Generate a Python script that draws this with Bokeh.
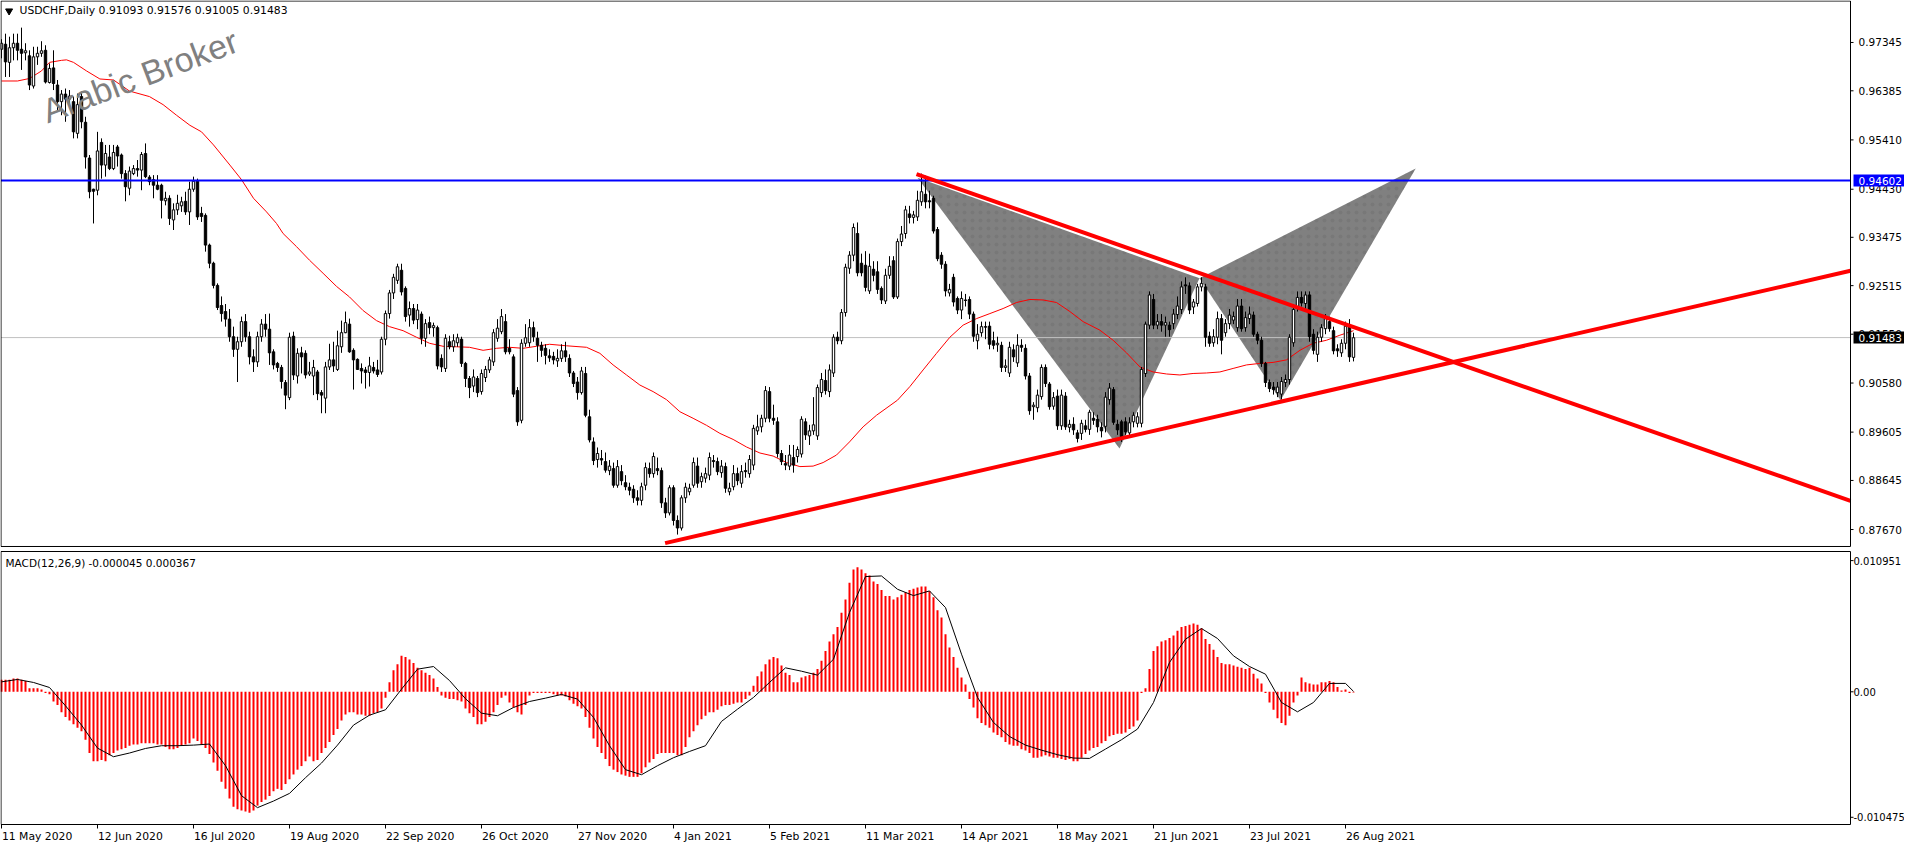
from bokeh.plotting import figure
from bokeh.models import Range1d, ColumnDataSource
from bokeh.layouts import column
from bokeh.embed import file_html
from bokeh.resources import INLINE
from bokeh.core.properties import value

FONT = "DejaVu Sans"

# ---------------- data ----------------
opens = [
0.9721,0.9731,0.9695,0.9724,0.9733,0.9721,0.9714,0.9708,0.9648,0.9706,
0.9713,0.9719,0.9655,0.9684,0.9650,0.9617,0.9632,0.9622,0.9617,0.9554,
0.9627,0.9576,0.9505,0.9443,0.9441,0.9536,0.9491,0.9507,0.9484,0.9527,
0.9511,0.9474,0.9445,0.9474,0.9484,0.9481,0.9514,0.9467,0.9462,0.9451,
0.9451,0.9420,0.9425,0.9382,0.9402,0.9410,0.9419,0.9398,0.9443,0.9459,
0.9395,0.9391,0.9332,0.9296,0.9252,0.9212,0.9200,0.9185,0.9150,0.9125,
0.9140,0.9180,0.9150,0.9110,0.9100,0.9150,0.9175,0.9165,0.9120,0.9097,
0.9089,0.9059,0.9029,0.9151,0.9072,0.9118,0.9117,0.9076,0.9072,0.9080,
0.9039,0.9028,0.9090,0.9104,0.9085,0.9130,0.9158,0.9175,0.9123,0.9105,
0.9087,0.9084,0.9079,0.9089,0.9084,0.9080,0.9145,0.9196,0.9237,0.9262,
0.9282,0.9246,0.9193,0.9206,0.9184,0.9195,0.9147,0.9178,0.9168,0.9168,
0.9107,0.9087,0.9140,0.9130,0.9138,0.9145,0.9097,0.9067,0.9052,0.9067,
0.9041,0.9069,0.9084,0.9100,0.9147,0.9160,0.9180,0.9127,0.9110,0.9043,
0.8984,0.9137,0.9138,0.9168,0.9147,0.9133,0.9127,0.9112,0.9111,0.9102,
0.9107,0.9122,0.9107,0.9078,0.9060,0.9039,0.9077,0.8991,0.8941,0.8906,
0.8908,0.8902,0.8884,0.8888,0.8855,0.8882,0.8860,0.8851,0.8847,0.8830,
0.8825,0.8855,0.8888,0.8878,0.8888,0.8884,0.8820,0.8800,0.8850,0.8785,
0.8770,0.8830,0.8842,0.8855,0.8893,0.8862,0.8869,0.8875,0.8904,0.8902,
0.8880,0.8892,0.8842,0.8852,0.8878,0.8859,0.8884,0.8878,0.8895,0.8963,
0.8971,0.8988,0.9041,0.8988,0.8981,0.8918,0.8898,0.8893,0.8910,0.8912,
0.8917,0.8981,0.8953,0.8963,0.8953,0.9039,0.9063,0.9041,0.9078,0.9149,
0.9142,0.9198,0.9286,0.9312,0.9355,0.9296,0.9292,0.9241,0.9284,0.9279,
0.9246,0.9221,0.9272,0.9301,0.9229,0.9339,0.9355,0.9394,0.9387,0.9388,
0.9418,0.9433,0.9420,0.9425,0.9363,0.9312,0.9294,0.9237,0.9268,0.9226,
0.9203,0.9223,0.9224,0.9195,0.9142,0.9158,0.9170,0.9171,0.9142,0.9134,
0.9133,0.9089,0.9078,0.9124,0.9098,0.9133,0.9127,0.9072,0.9011,0.9009,
0.9031,0.9089,0.9056,0.9012,0.9032,0.8973,0.9032,0.8970,0.8976,0.8959,
0.8958,0.8973,0.8966,0.8988,0.8986,0.8970,0.8972,0.9025,0.9045,0.8976,
0.8981,0.8981,0.8959,0.8981,0.8978,0.8978,0.9077,0.9173,0.9224,0.9173,
0.9180,0.9173,0.9173,0.9176,0.9194,0.9204,0.9253,0.9251,0.9209,0.9216,
0.9249,0.9249,0.9151,0.9138,0.9149,0.9186,0.9158,0.9176,0.9183,0.9168,
0.9211,0.9168,0.9186,0.9193,0.9155,0.9143,0.9097,0.9059,0.9050,0.9039,
0.9036,0.9059,0.9065,0.9138,0.9209,0.9228,0.9216,0.9233,0.9155,0.9115,
0.9149,0.9166,0.9180,0.9162,0.9126,0.9118,0.9137,0.9171,0.9109]
highs = [
0.9741,0.9752,0.9746,0.9752,0.9752,0.9764,0.9733,0.9719,0.9726,0.9726,
0.9737,0.9729,0.9693,0.9719,0.9660,0.9640,0.9643,0.9640,0.9627,0.9633,
0.9637,0.9587,0.9511,0.9444,0.9557,0.9544,0.9531,0.9531,0.9531,0.9531,
0.9514,0.9481,0.9488,0.9491,0.9501,0.9517,0.9534,0.9471,0.9471,0.9471,
0.9454,0.9438,0.9431,0.9415,0.9432,0.9428,0.9438,0.9458,0.9468,0.9464,
0.9408,0.9395,0.9335,0.9299,0.9256,0.9230,0.9215,0.9205,0.9170,0.9150,
0.9190,0.9195,0.9160,0.9125,0.9160,0.9185,0.9195,0.9196,0.9125,0.9100,
0.9094,0.9064,0.9158,0.9160,0.9127,0.9130,0.9123,0.9100,0.9104,0.9084,
0.9044,0.9100,0.9136,0.9140,0.9162,0.9182,0.9200,0.9186,0.9127,0.9107,
0.9097,0.9090,0.9110,0.9100,0.9104,0.9150,0.9202,0.9243,0.9275,0.9295,
0.9295,0.9250,0.9220,0.9215,0.9215,0.9200,0.9185,0.9190,0.9178,0.9172,
0.9115,0.9155,0.9152,0.9155,0.9156,0.9150,0.9100,0.9072,0.9085,0.9072,
0.9085,0.9092,0.9110,0.9165,0.9185,0.9205,0.9195,0.9145,0.9115,0.9050,
0.9145,0.9175,0.9185,0.9180,0.9160,0.9140,0.9135,0.9125,0.9120,0.9125,
0.9135,0.9140,0.9115,0.9082,0.9070,0.9090,0.9090,0.9005,0.8950,0.8930,
0.8925,0.8920,0.8905,0.8900,0.8905,0.8895,0.8875,0.8860,0.8855,0.8845,
0.8860,0.8900,0.8900,0.8920,0.8910,0.8890,0.8830,0.8855,0.8855,0.8795,
0.8835,0.8860,0.8858,0.8910,0.8910,0.8880,0.8890,0.8920,0.8915,0.8910,
0.8905,0.8900,0.8860,0.8895,0.8890,0.8895,0.8900,0.8915,0.8975,0.8995,
0.8995,0.9052,0.9050,0.9015,0.8990,0.8925,0.8915,0.8935,0.8935,0.8932,
0.8992,0.8988,0.8975,0.9030,0.9055,0.9078,0.9085,0.9095,0.9155,0.9160,
0.9205,0.9295,0.9320,0.9375,0.9377,0.9315,0.9320,0.9315,0.9300,0.9300,
0.9250,0.9285,0.9310,0.9310,0.9345,0.9370,0.9410,0.9410,0.9400,0.9440,
0.9474,0.9470,0.9440,0.9430,0.9368,0.9318,0.9300,0.9255,0.9275,0.9230,
0.9240,0.9235,0.9230,0.9200,0.9175,0.9180,0.9180,0.9180,0.9160,0.9150,
0.9140,0.9105,0.9140,0.9135,0.9155,0.9145,0.9135,0.9078,0.9020,0.9045,
0.9095,0.9095,0.9060,0.9040,0.9045,0.9045,0.9040,0.8985,0.8990,0.8965,
0.8985,0.8985,0.9005,0.9000,0.8995,0.8980,0.9040,0.9058,0.9050,0.8985,
0.8985,0.8990,0.8990,0.9000,0.9000,0.9090,0.9180,0.9240,0.9235,0.9195,
0.9195,0.9190,0.9180,0.9205,0.9230,0.9260,0.9268,0.9258,0.9225,0.9255,
0.9268,0.9255,0.9160,0.9165,0.9200,0.9195,0.9185,0.9205,0.9200,0.9225,
0.9225,0.9200,0.9210,0.9200,0.9160,0.9150,0.9100,0.9065,0.9060,0.9060,
0.9070,0.9075,0.9155,0.9215,0.9240,0.9240,0.9240,0.9240,0.9165,0.9160,
0.9175,0.9195,0.9190,0.9170,0.9135,0.9145,0.9180,0.9185,0.9158]
lows = [
0.9703,0.9666,0.9666,0.9699,0.9699,0.9680,0.9699,0.9640,0.9643,0.9690,
0.9706,0.9653,0.9653,0.9640,0.9597,0.9590,0.9577,0.9605,0.9544,0.9544,
0.9564,0.9484,0.9425,0.9375,0.9431,0.9464,0.9468,0.9481,0.9481,0.9488,
0.9464,0.9419,0.9431,0.9471,0.9468,0.9441,0.9465,0.9451,0.9425,0.9441,
0.9385,0.9411,0.9372,0.9362,0.9392,0.9398,0.9392,0.9372,0.9438,0.9382,
0.9378,0.9319,0.9286,0.9246,0.9203,0.9180,0.9170,0.9140,0.9110,0.9060,
0.9130,0.9140,0.9095,0.9080,0.9090,0.9140,0.9150,0.9094,0.9085,0.9080,
0.9047,0.9006,0.9024,0.9064,0.9057,0.9077,0.9067,0.9072,0.9034,0.9024,
0.8998,0.8998,0.9084,0.9080,0.9082,0.9118,0.9157,0.9118,0.9045,0.9084,
0.9057,0.9047,0.9051,0.9077,0.9070,0.9075,0.9133,0.9186,0.9225,0.9255,
0.9232,0.9180,0.9170,0.9175,0.9165,0.9135,0.9130,0.9155,0.9150,0.9085,
0.9080,0.9080,0.9125,0.9120,0.9130,0.9090,0.9050,0.9028,0.9040,0.9030,
0.9035,0.9060,0.9078,0.9092,0.9140,0.9155,0.9115,0.9115,0.9030,0.8973,
0.8978,0.9130,0.9130,0.9140,0.9100,0.9110,0.9095,0.9100,0.9095,0.9090,
0.9100,0.9100,0.9070,0.9050,0.9025,0.9035,0.8990,0.8940,0.8895,0.8890,
0.8895,0.8880,0.8875,0.8850,0.8850,0.8855,0.8845,0.8835,0.8820,0.8815,
0.8815,0.8845,0.8870,0.8870,0.8875,0.8810,0.8790,0.8795,0.8775,0.8757,
0.8765,0.8820,0.8835,0.8850,0.8850,0.8850,0.8860,0.8865,0.8890,0.8875,
0.8870,0.8840,0.8835,0.8845,0.8855,0.8850,0.8870,0.8870,0.8885,0.8955,
0.8960,0.8980,0.8980,0.8975,0.8910,0.8895,0.8885,0.8885,0.8880,0.8900,
0.8910,0.8945,0.8935,0.8955,0.8945,0.9030,0.9035,0.9030,0.9070,0.9135,
0.9135,0.9190,0.9275,0.9300,0.9270,0.9270,0.9240,0.9235,0.9260,0.9235,
0.9215,0.9215,0.9265,0.9225,0.9225,0.9330,0.9345,0.9375,0.9375,0.9380,
0.9410,0.9405,0.9405,0.9355,0.9300,0.9285,0.9230,0.9230,0.9210,0.9195,
0.9185,0.9210,0.9185,0.9140,0.9125,0.9150,0.9145,0.9125,0.9125,0.9120,
0.9080,0.9080,0.9070,0.9100,0.9090,0.9120,0.9065,0.8995,0.8985,0.9000,
0.9025,0.9050,0.9005,0.9005,0.8965,0.8965,0.8965,0.8960,0.8955,0.8940,
0.8945,0.8960,0.8955,0.8975,0.8960,0.8950,0.8960,0.9015,0.8975,0.8955,
0.8941,0.8955,0.8950,0.8970,0.8970,0.8970,0.9070,0.9165,0.9165,0.9165,
0.9160,0.9150,0.9150,0.9165,0.9185,0.9195,0.9235,0.9195,0.9195,0.9210,
0.9240,0.9130,0.9130,0.9130,0.9135,0.9115,0.9150,0.9165,0.9175,0.9160,
0.9160,0.9160,0.9175,0.9150,0.9135,0.9090,0.9050,0.9040,0.9035,0.9030,
0.9025,0.9050,0.9055,0.9130,0.9200,0.9210,0.9205,0.9140,0.9115,0.9100,
0.9140,0.9155,0.9160,0.9115,0.9110,0.9110,0.9125,0.9100,0.9101]
closes = [
0.9733,0.9696,0.9724,0.9733,0.9719,0.9713,0.9718,0.9650,0.9706,0.9713,
0.9718,0.9656,0.9683,0.9653,0.9617,0.9632,0.9622,0.9628,0.9557,0.9611,
0.9577,0.9507,0.9438,0.9439,0.9519,0.9491,0.9514,0.9484,0.9516,0.9509,
0.9474,0.9448,0.9479,0.9484,0.9481,0.9512,0.9468,0.9458,0.9451,0.9443,
0.9421,0.9425,0.9385,0.9402,0.9415,0.9418,0.9398,0.9443,0.9459,0.9388,
0.9389,0.9332,0.9296,0.9252,0.9208,0.9196,0.9185,0.9150,0.9125,0.9140,
0.9180,0.9150,0.9110,0.9100,0.9150,0.9175,0.9165,0.9118,0.9094,0.9089,
0.9061,0.9034,0.9149,0.9074,0.9117,0.9110,0.9074,0.9080,0.9089,0.9037,
0.9034,0.9090,0.9104,0.9092,0.9132,0.9158,0.9178,0.9120,0.9104,0.9085,
0.9082,0.9079,0.9092,0.9082,0.9075,0.9145,0.9196,0.9237,0.9268,0.9289,
0.9239,0.9190,0.9206,0.9183,0.9203,0.9147,0.9176,0.9168,0.9172,0.9092,
0.9090,0.9147,0.9130,0.9142,0.9148,0.9097,0.9067,0.9049,0.9070,0.9039,
0.9077,0.9085,0.9104,0.9158,0.9167,0.9190,0.9120,0.9120,0.9036,0.8981,
0.9137,0.9148,0.9168,0.9150,0.9133,0.9123,0.9113,0.9108,0.9104,0.9107,
0.9122,0.9110,0.9078,0.9057,0.9039,0.9082,0.8994,0.8945,0.8904,0.8918,
0.8905,0.8885,0.8893,0.8855,0.8892,0.8864,0.8852,0.8845,0.8830,0.8825,
0.8852,0.8890,0.8878,0.8912,0.8884,0.8820,0.8800,0.8850,0.8785,0.8770,
0.8830,0.8851,0.8849,0.8900,0.8859,0.8872,0.8878,0.8910,0.8902,0.8882,
0.8893,0.8849,0.8849,0.8878,0.8864,0.8882,0.8882,0.8906,0.8968,0.8971,
0.8988,0.9043,0.8988,0.8984,0.8918,0.8902,0.8895,0.8915,0.8895,0.8926,
0.8986,0.8955,0.8963,0.8975,0.9049,0.9065,0.9043,0.9084,0.9149,0.9142,
0.9198,0.9288,0.9312,0.9367,0.9277,0.9277,0.9248,0.9290,0.9272,0.9244,
0.9223,0.9272,0.9290,0.9229,0.9339,0.9354,0.9402,0.9387,0.9392,0.9421,
0.9438,0.9418,0.9418,0.9360,0.9305,0.9294,0.9241,0.9244,0.9219,0.9203,
0.9226,0.9222,0.9195,0.9151,0.9155,0.9170,0.9169,0.9135,0.9133,0.9137,
0.9089,0.9092,0.9129,0.9110,0.9133,0.9129,0.9072,0.9003,0.9014,0.9034,
0.9089,0.9057,0.9011,0.9029,0.8973,0.9034,0.8971,0.8976,0.8965,0.8948,
0.8978,0.8966,0.9000,0.8984,0.8971,0.8963,0.9030,0.9048,0.8980,0.8965,
0.8951,0.8961,0.8979,0.8994,0.8991,0.9085,0.9175,0.9233,0.9173,0.9180,
0.9173,0.9178,0.9164,0.9195,0.9211,0.9249,0.9251,0.9203,0.9219,0.9249,
0.9256,0.9149,0.9137,0.9150,0.9186,0.9143,0.9176,0.9193,0.9190,0.9211,
0.9166,0.9188,0.9195,0.9155,0.9143,0.9097,0.9059,0.9047,0.9045,0.9050,
0.9061,0.9065,0.9149,0.9204,0.9228,0.9217,0.9233,0.9150,0.9123,0.9149,
0.9168,0.9186,0.9166,0.9122,0.9122,0.9137,0.9171,0.9110,0.9148]

# moving average line (vertices)
ma_idx = [0,4,7,10,12,15,16.25,18,21.25,24.6,28,32,37,40.4,43.75,47.1,50,53,57.1,60,63,66.25,68.75,
          70.4,73.75,77,80.4,83.75,87,90.4,93.75,97,100.4,103.75,107,110.4,113.75,117,120.4,123.75,
          127,130.4,133.75,137,141.25,146.25,149.6,152.9,156.25,159.6,162.9,166.25,169.6,172.9,176.25,
          179.6,182.9,186.25,189.6,192.9,196.25,199.6,202.9,205.4,208.75,212,215.4,218.75,224,227.1,
          230.4,233.75,237.1,240.4,243.75,247.1,250.4,253.75,257.1,260.4,263.75,267.1,270.4,274.6,
          277.9,281.25,284.6,287.9,291.25,294.6,297.9,301.25,304.6,307.9,311.25,314.6,317.9,321.25,
          324.6,327.9,331.25,334.6,338]
ma_val = [0.9658,0.9658,0.9663,0.9678,0.9695,0.9699,0.9700,0.9695,0.9678,0.9662,0.9660,0.9638,0.9627,
          0.9611,0.9590,0.9570,0.9557,0.9531,0.9491,0.9462,0.9425,0.9398,0.9375,
          0.9355,0.9329,0.9302,0.9276,0.9250,0.9229,0.9202,0.9182,0.9170,0.9162,0.9149,0.9137,0.9131,
          0.9130,0.9129,0.9123,0.9127,0.9129,0.9127,0.9131,0.9135,0.9132,0.9129,0.9117,0.9094,0.9074,
          0.9054,0.9041,0.9025,0.9001,0.8988,0.8974,0.8958,0.8946,0.8931,0.8919,0.8913,0.8900,0.8892,
          0.8893,0.8900,0.8915,0.8941,0.8971,0.8994,0.9024,0.9051,0.9084,0.9117,0.9149,0.9173,0.9186,
          0.9196,0.9206,0.9218,0.9224,0.9223,0.9218,0.9200,0.9180,0.9163,0.9143,0.9118,0.9090,0.9080,
          0.9076,0.9074,0.9077,0.9078,0.9080,0.9087,0.9094,0.9097,0.9099,0.9104,0.9123,0.9137,0.9143,
          0.9153,0.9162]

# MACD(12,26,9) main values (histogram) per bar
macd_main = [
0.0010,0.0010,0.0010,0.0011,0.0011,0.0010,0.0009,0.0003,0.0003,0.0003,
0.0002,-0.0001,-0.0002,-0.0008,-0.0011,-0.0017,-0.0021,-0.0024,-0.0027,-0.0030,
-0.0033,-0.0040,-0.0051,-0.0058,-0.0058,-0.0057,-0.0058,-0.0053,-0.0051,-0.0049,
-0.0048,-0.0047,-0.0045,-0.0044,-0.0044,-0.0043,-0.0043,-0.0043,-0.0043,-0.0044,
-0.0044,-0.0046,-0.0048,-0.0048,-0.0047,-0.0045,-0.0044,-0.0043,-0.0039,-0.0041,
-0.0044,-0.0047,-0.0052,-0.0059,-0.0066,-0.0075,-0.0081,-0.0089,-0.0096,-0.0098,
-0.0099,-0.0100,-0.0101,-0.0099,-0.0095,-0.0092,-0.0090,-0.0087,-0.0083,-0.0081,
-0.0082,-0.0077,-0.0073,-0.0069,-0.0065,-0.0062,-0.0058,-0.0054,-0.0058,-0.0057,
-0.0051,-0.0047,-0.0042,-0.0036,-0.0031,-0.0024,-0.0019,-0.0017,-0.0017,-0.0019,
-0.0019,-0.0020,-0.0020,-0.0018,-0.0017,-0.0014,-0.0005,0.0008,0.0018,0.0023,
0.0030,0.0029,0.0027,0.0024,0.0020,0.0018,0.0016,0.0014,0.0011,0.0004,
-0.0003,-0.0005,-0.0006,-0.0006,-0.0007,-0.0008,-0.0014,-0.0018,-0.0021,-0.0027,
-0.0027,-0.0025,-0.0021,-0.0017,-0.0011,-0.0005,-0.0003,-0.0009,-0.0013,-0.0017,
-0.0019,-0.0011,-0.0003,-0.0001,-0.0001,-0.0001,-0.0001,-0.0001,-0.0002,-0.0003,
-0.0003,-0.0004,-0.0007,-0.0010,-0.0012,-0.0014,-0.0021,-0.0030,-0.0039,-0.0046,
-0.0051,-0.0056,-0.0062,-0.0065,-0.0067,-0.0069,-0.0070,-0.0071,-0.0071,-0.0071,
-0.0068,-0.0063,-0.0059,-0.0056,-0.0052,-0.0051,-0.0051,-0.0051,-0.0051,-0.0053,
-0.0053,-0.0046,-0.0038,-0.0033,-0.0028,-0.0023,-0.0020,-0.0017,-0.0017,-0.0015,
-0.0012,-0.0011,-0.0011,-0.0010,-0.0009,-0.0009,-0.0006,-0.0003,0.0005,0.0013,
0.0017,0.0023,0.0027,0.0029,0.0028,0.0022,0.0016,0.0014,0.0008,0.0008,
0.0012,0.0013,0.0014,0.0016,0.0019,0.0026,0.0034,0.0042,0.0048,0.0054,
0.0066,0.0077,0.0091,0.0102,0.0104,0.0102,0.0099,0.0097,0.0092,0.0090,
0.0085,0.0080,0.0080,0.0077,0.0079,0.0081,0.0083,0.0085,0.0086,0.0087,
0.0088,0.0088,0.0084,0.0079,0.0068,0.0062,0.0048,0.0037,0.0029,0.0020,
0.0012,0.0006,-0.0006,-0.0013,-0.0022,-0.0026,-0.0028,-0.0030,-0.0034,-0.0036,
-0.0038,-0.0042,-0.0044,-0.0045,-0.0045,-0.0048,-0.0049,-0.0051,-0.0055,-0.0055,
-0.0054,-0.0053,-0.0054,-0.0055,-0.0055,-0.0056,-0.0057,-0.0056,-0.0058,-0.0058,
-0.0055,-0.0052,-0.0049,-0.0047,-0.0046,-0.0043,-0.0041,-0.0037,-0.0036,-0.0035,
-0.0035,-0.0034,-0.0031,-0.0029,-0.0024,-0.0001,0.0003,0.0019,0.0034,0.0038,
0.0042,0.0043,0.0045,0.0047,0.0051,0.0054,0.0055,0.0056,0.0057,0.0056,
0.0053,0.0044,0.0040,0.0035,0.0029,0.0024,0.0023,0.0023,0.0022,0.0021,
0.0020,0.0019,0.0020,0.0015,0.0011,0.0007,-0.0001,-0.0009,-0.0015,-0.0022,
-0.0026,-0.0028,-0.0020,-0.0009,-0.0003,0.0012,0.0008,0.0007,0.0006,0.0006,
0.0008,0.0008,0.0009,0.0008,0.0004,0.0001,0.0002,-0.0001,-0.00005]

# MACD signal line (vertices)
signal_idx = list(range(0, 337, 4)) + [338]
signal_val = [
0.00083,0.00103,0.00078,0.00036,-0.00117,-0.00278,-0.00470,-0.00542,-0.00511,-0.00473,
-0.00450,-0.00450,-0.00445,-0.00436,-0.00617,-0.00867,-0.00967,-0.00912,-0.00848,-0.00717,
-0.00595,-0.00445,-0.00278,-0.00195,-0.00150,0.00022,0.00189,0.00211,0.00094,-0.00058,
-0.00178,-0.00200,-0.00131,-0.00081,-0.00053,-0.00022,-0.00061,-0.00214,-0.00450,-0.00650,
-0.00692,-0.00617,-0.00550,-0.00498,-0.00450,-0.00247,-0.00145,-0.00047,0.00078,0.00200,
0.00172,0.00139,0.00272,0.00662,0.00962,0.00967,0.00856,0.00803,0.00842,0.00703,
0.00314,-0.00047,-0.00256,-0.00373,-0.00445,-0.00487,-0.00525,-0.00553,-0.00556,-0.00478,
-0.00400,-0.00311,-0.00089,0.00245,0.00439,0.00528,0.00445,0.00300,0.00211,0.00147,
-0.00089,-0.00167,-0.00089,0.00070,0.00070,0.0000367]

price_ticks = [0.87670, 0.88645, 0.89605, 0.90580, 0.91550, 0.92515, 0.93475, 0.94430, 0.95410, 0.96385, 0.97345]
price_tick_labels = ["0.87670", "0.88645", "0.89605", "0.90580", "0.91550", "0.92515",
                     "0.93475", "0.94430", "0.95410", "0.96385", "0.97345"]
macd_ticks = [-0.010475, 0.0, 0.010951]
macd_tick_labels = ["-0.010475", "0.00", "0.010951"]
date_ticks = [0, 24, 48, 72, 96, 120, 144, 168, 192, 216, 240, 264, 288, 312, 336]
date_labels = ["11 May 2020", "12 Jun 2020", "16 Jul 2020", "19 Aug 2020", "22 Sep 2020",
               "26 Oct 2020", "27 Nov 2020", "4 Jan 2021", "5 Feb 2021", "11 Mar 2021",
               "14 Apr 2021", "18 May 2021", "21 Jun 2021", "23 Jul 2021", "26 Aug 2021"]

level_blue = 0.94602
level_blue_label = "0.94602"
last_price = 0.91483
last_price_label = "0.91483"
header = "USDCHF,Daily  0.91093 0.91576 0.91005 0.91483"
macd_title = "MACD(12,26,9) -0.000045 0.000367"

trend_down_x = [228.75, 462.25]
trend_down_y = [0.9473, 0.8824]
trend_up_x = [165.9, 462.25]
trend_up_y = [0.8740, 0.9281]

tri1_x = [229.0, 279.5, 299.5]
tri1_y = [0.9466, 0.8928, 0.9266]
tri2_x = [299.5, 319.75, 353.55]
tri2_y = [0.9266, 0.9024, 0.9484]

# ---------------- layout constants ----------------
X_START, X_END = -0.25, 475.75        # bar-index range spanning the whole canvas
PANE_L, PANE_R = -0.125, 462.25       # chart area (left/right border)
PRICE_LO, PRICE_HI = 0.87313, 0.98179
PRICE_TOP, PRICE_BOT = 0.98169, 0.87333
MACD_LO, MACD_HI = -0.012746, 0.012045
MACD_TOP, MACD_BOT = 0.011711, -0.011077
PX_PRICE = 1 / 5034.0                 # price per pixel
PX_MACD = 1 / 11980.0                 # macd per pixel
BAR_PX = 4.0                          # pixels per bar

n = len(closes)
idx = list(range(n))
up = [closes[i] >= opens[i] for i in idx]

def sel(flag):
    ii = [i for i in idx if up[i] == flag]
    return ColumnDataSource(dict(
        x=ii,
        top=[max(opens[i], closes[i]) for i in ii],
        bottom=[min(opens[i], closes[i]) for i in ii]))

xr = Range1d(X_START, X_END)

def make_fig(h, yr):
    f = figure(width=1904, height=h, x_range=xr, y_range=yr,
               output_backend="svg", toolbar_location=None,
               x_axis_location=None, y_axis_location=None,
               min_border=0, min_border_left=0, min_border_right=0,
               min_border_top=0, min_border_bottom=0,
               outline_line_color=None,
               background_fill_color="white", border_fill_color="white")
    f.grid.visible = False
    return f

# ================= price pane =================
p1 = make_fig(547, Range1d(PRICE_LO, PRICE_HI))

# harmonic pattern triangles (background)
p1.patches(xs=[tri1_x, tri2_x], ys=[tri1_y, tri2_y], fill_color="#808080", line_color=None,
           hatch_pattern="dot", hatch_color="#5c5c5c", hatch_scale=8, hatch_weight=1, hatch_alpha=0.22)

# current price line
p1.line(x=[PANE_L, PANE_R], y=[last_price, last_price], line_color="#C0C0C0", line_width=1)

# moving average
p1.line(x=ma_idx, y=ma_val, line_color="#FF0000", line_width=1)

# candles
p1.segment(x0=idx, y0=highs, x1=idx, y1=lows, line_color="black", line_width=1)
p1.vbar(x="x", top="top", bottom="bottom", width=0.6, source=sel(True),
        fill_color="white", line_color="black", line_width=1)
p1.vbar(x="x", top="top", bottom="bottom", width=0.6, source=sel(False),
        fill_color="black", line_color="black", line_width=1)

# horizontal level
p1.line(x=[PANE_L, PANE_R], y=[level_blue, level_blue], line_color="#0000FF", line_width=2)

# trend lines
p1.line(x=trend_down_x, y=trend_down_y, line_color="#FF0000", line_width=4)
p1.line(x=trend_up_x, y=trend_up_y, line_color="#FF0000", line_width=4)

# watermark
p1.text(x=[10.5], y=[0.95960], text=["Arabic Broker"], angle=0.36,
        text_font=value("Liberation Sans"), text_font_size="34px", text_color="#808080",
        text_align="left", text_baseline="alphabetic")

# header
p1.scatter(x=[1.9], y=[0.97971], marker="inverted_triangle", size=7, color="black")
p1.text(x=[4.5], y=[0.97971], text=[header], text_font=value(FONT), text_font_size="10.8px",
        text_color="black", text_align="left", text_baseline="middle")

# pane border
p1.line(x=[PANE_L, PANE_R, PANE_R, PANE_L, PANE_L],
        y=[PRICE_TOP, PRICE_TOP, PRICE_BOT, PRICE_BOT, PRICE_TOP], line_color="black", line_width=1)

# price scale (right)
p1.segment(x0=[PANE_R] * len(price_ticks), x1=[PANE_R + 3 / BAR_PX] * len(price_ticks),
           y0=price_ticks, y1=price_ticks, line_color="black", line_width=1)
p1.text(x=[PANE_R + 2.0] * len(price_ticks), y=price_ticks, text=price_tick_labels,
        text_font=value(FONT), text_font_size="10.5px", text_color="black",
        text_align="left", text_baseline="middle")

# value boxes on the price scale
box_h = 12 * PX_PRICE
p1.rect(x=[PANE_R + 7.75, PANE_R + 7.75], y=[level_blue, last_price], width=14, height=box_h,
        fill_color=["#0000FF", "#000000"], line_color=None)
p1.text(x=[PANE_R + 2.0, PANE_R + 2.0], y=[level_blue, last_price],
        text=[level_blue_label, last_price_label],
        text_font=value(FONT), text_font_size="10.5px", text_color="white",
        text_align="left", text_baseline="middle")

# ================= MACD pane =================
p2 = make_fig(297, Range1d(MACD_LO, MACD_HI))

p2.vbar(x=idx, top=macd_main, bottom=0, width=0.5, fill_color="#FF0000", line_color=None)
p2.line(x=signal_idx, y=signal_val, line_color="black", line_width=1)
p2.text(x=[1.0], y=[0.010751], text=[macd_title], text_font=value(FONT), text_font_size="10.5px",
        text_color="black", text_align="left", text_baseline="middle")

p2.line(x=[PANE_L, PANE_R, PANE_R, PANE_L, PANE_L],
        y=[MACD_TOP, MACD_TOP, MACD_BOT, MACD_BOT, MACD_TOP], line_color="black", line_width=1)

p2.segment(x0=[PANE_R] * len(macd_ticks), x1=[PANE_R + 3 / BAR_PX] * len(macd_ticks),
           y0=macd_ticks, y1=macd_ticks, line_color="black", line_width=1)
p2.text(x=[PANE_R + 0.75] * len(macd_ticks), y=macd_ticks, text=macd_tick_labels,
        text_font=value(FONT), text_font_size="10px", text_color="black",
        text_align="left", text_baseline="middle")

# time scale (below)
p2.segment(x0=date_ticks, x1=date_ticks, y0=[MACD_BOT] * len(date_ticks),
           y1=[MACD_BOT - 4 * PX_MACD] * len(date_ticks), line_color="black", line_width=1)
p2.text(x=[t + 0.1 for t in date_ticks], y=[MACD_BOT - 12 * PX_MACD] * len(date_ticks), text=date_labels,
        text_font=value(FONT), text_font_size="10.8px", text_color="black",
        text_align="left", text_baseline="middle")

layout = column(p1, p2, spacing=0)
open("out.html", "w").write(file_html(layout, INLINE))
